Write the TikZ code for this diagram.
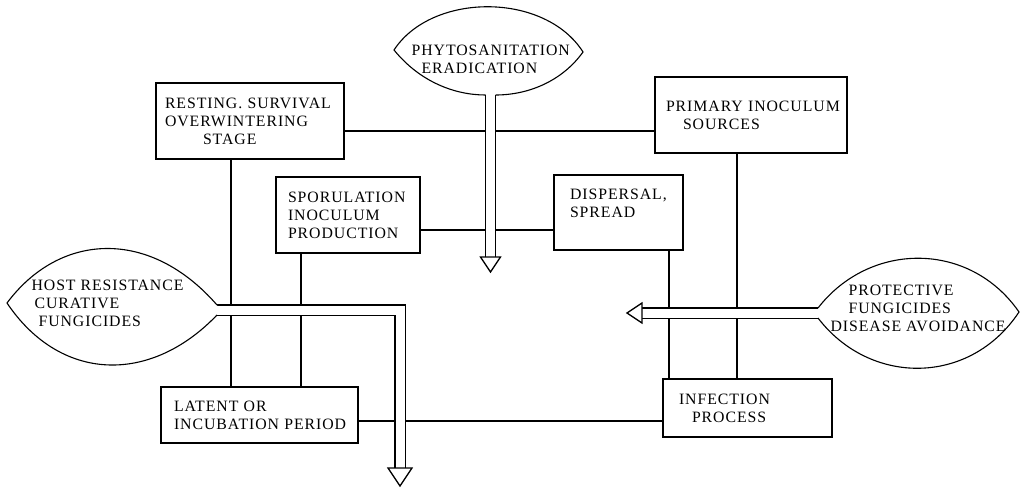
\documentclass[tikz,border=0pt]{standalone}
\usepackage{fontspec}
\setmainfont{Liberation Serif}[LetterSpace=6]
\usepackage{tikz}

\tikzset{
  stage/.style={draw, line width=1.1pt, align=left, inner ysep=0pt, font=\fontsize{15.8}{18}\selectfont},
  leaftext/.style={align=left, inner sep=0pt, anchor=west, font=\fontsize{15.8}{18}\selectfont},
  leaf/.style={draw, fill=white, line width=1.1pt},
  pipe/.style={draw, double, double distance=9pt, line width=1.1pt},
  head/.style={draw, fill=white, line width=1.3pt, line join=miter}
}

\begin{document}
\begin{tikzpicture}[x=1pt, y=-1pt, line width=1.1pt]
\useasboundingbox (0,0) rectangle (1027,489);

% stages of the cycle
\node[stage, text width=170pt, inner xsep=9pt, minimum height=76pt] (resting) at (250,121) {\mbox{RESTING. SURVIVAL}\\OVERWINTERING\\\hspace*{38pt}STAGE};
\node[stage, text width=170pt, inner xsep=11pt, minimum height=76pt] (primary) at (751,115) {\mbox{PRIMARY INOCULUM}\\\hspace*{17pt}SOURCES};
\node[stage, text width=120pt, inner xsep=12pt, minimum height=76pt] (sporulation) at (348,215) {\mbox{SPORULATION}\\\mbox{INOCULUM}\\\mbox{PRODUCTION}};
\node[stage, text width=97pt, inner xsep=16pt, minimum height=75pt] (dispersal) at (618.5,212.5) {\mbox{DISPERSAL,}\\SPREAD\\\mbox{}};
\node[stage, text width=171pt, inner xsep=13pt, minimum height=56pt] (latent) at (259.5,415) {LATENT OR\\\mbox{INCUBATION PERIOD}};
\node[stage, text width=137pt, inner xsep=16pt, minimum height=58pt] (infection) at (747.5,408) {INFECTION\\\hspace*{13pt}PROCESS};

\draw ([yshift=-10pt]resting.east) -- ([yshift=-10pt]resting.east -| primary.west);
\draw ([yshift=-15pt]sporulation.east) -- ([yshift=-15pt]sporulation.east -| dispersal.west);
\draw ([xshift=-19pt]resting.south) -- ([xshift=-19pt]resting.south |- latent.north);
\draw ([xshift=-47pt]sporulation.south) -- ([xshift=-47pt]sporulation.south |- latent.north);
\draw ([yshift=-6pt]latent.east) -- ([yshift=-6pt]latent.east -| infection.west);
\draw ([xshift=-14pt]primary.south) -- ([xshift=-14pt]primary.south |- infection.north);
\draw ([xshift=50.5pt]dispersal.south) -- ([xshift=50.5pt]dispersal.south |- infection.north);

% control measures
\coordinate (phytotip) at (490.5,95);
\coordinate (phytoend) at (490.5,257);
\coordinate (hosttip) at (217,310);
\coordinate (hostbend) at (400,310);
\coordinate (hostend) at (400,468);
\coordinate (protip) at (818,313);
\coordinate (proend) at (642,313);
\draw[pipe] (phytotip) -- (phytoend);
\draw[pipe] (hosttip) -- (hostbend) -- (hostend);
\draw[pipe] (protip) -- (proend);
\draw[head, shift={(phytoend)}] (-10,0) -- (10,0) -- (0,15) -- cycle;
\draw[head, shift={(hostend)}] (-12,0) -- (12,0) -- (0,18) -- cycle;
\draw[head, shift={(proend)}] (0,-10) -- (0,10) -- (-15,0) -- cycle;

\draw[leaf] (495.5,95) .. controls (530,95) and (563,80) .. (583,52) .. controls (545,-8) and (432,-8) .. (394,50) .. controls (420,82) and (455,95) .. (485.5,95);
\draw[leaf] (217,305) .. controls (150,228) and (60,232) .. (7,303) .. controls (60,382) and (150,385) .. (217,315);
\draw[leaf] (818,308) .. controls (870,241) and (970,241) .. (1019,312) .. controls (970,386) and (870,386) .. (818,318);

\node[leaftext] (phyto) at (411,59) {PHYTOSANITATION\\\hspace*{10pt}ERADICATION};
\node[leaftext] (host) at (31,303) {HOST RESISTANCE\\\hspace*{3pt}CURATIVE\\\hspace*{7pt}FUNGICIDES};
\node[leaftext] (protect) at (830,308) {\hspace*{18pt}PROTECTIVE\\\hspace*{18pt}FUNGICIDES\\DISEASE AVOIDANCE};

\end{tikzpicture}
\end{document}
